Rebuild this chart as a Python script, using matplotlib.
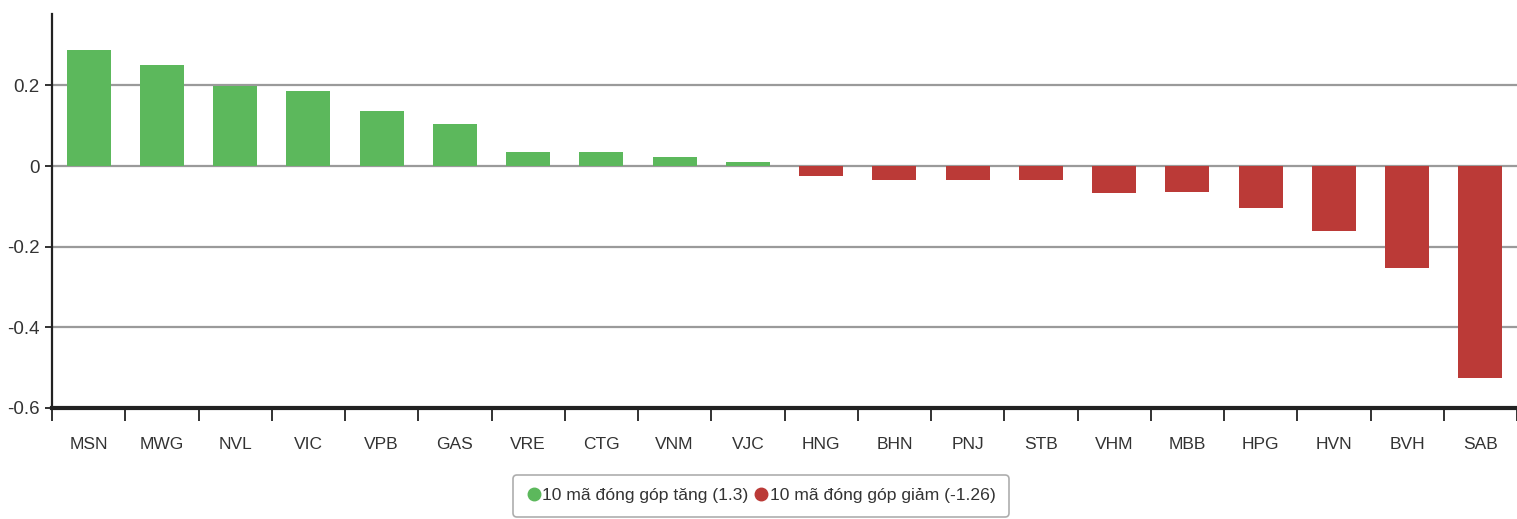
import matplotlib.pyplot as plt
from matplotlib.lines import Line2D
import numpy as np

# --- data ---
tickers = ['MSN', 'MWG', 'NVL', 'VIC', 'VPB', 'GAS', 'VRE', 'CTG', 'VNM', 'VJC',
           'HNG', 'BHN', 'PNJ', 'STB', 'VHM', 'MBB', 'HPG', 'HVN', 'BVH', 'SAB']
contrib = [0.287, 0.25, 0.198, 0.185, 0.137, 0.105, 0.035, 0.035, 0.023, 0.009,
           -0.024, -0.034, -0.034, -0.034, -0.066, -0.065, -0.104, -0.162, -0.253, -0.525]
legend_labels = ['10 mã đóng góp tăng (1.3)', '10 mã đóng góp giảm (-1.26)']

GREEN = '#5cb85c'
RED = '#bb3a37'

plt.rcParams['font.family'] = ['Liberation Sans', 'DejaVu Sans']

W, H = 1517, 519
fig = plt.figure(figsize=(W / 100, H / 100), dpi=100)
ax = fig.add_axes([52 / W, (H - 408) / H, (W - 52) / W, (408 - 14) / H])

x = np.arange(len(tickers))
colors = [GREEN if v >= 0 else RED for v in contrib]
ax.bar(x, contrib, width=0.6, color=colors, zorder=3)

ax.set_xlim(-0.5, len(tickers) - 0.5)
ax.set_ylim(-0.6, 0.377)

# grid lines
for yv in [0.2, 0, -0.2, -0.4]:
    ax.axhline(yv, color='#9a9a9a', lw=1.6, zorder=1)

ax.set_yticks([0.2, 0, -0.2, -0.4, -0.6])
ax.set_yticklabels(['0.2', '0', '-0.2', '-0.4', '-0.6'])
ax.tick_params(axis='y', length=5, width=1.3, color='#222222', labelsize=13.5, pad=4)

ax.set_xticks(x)
ax.set_xticklabels(tickers)
ax.set_xticks(np.arange(len(tickers) + 1) - 0.5, minor=True)
ax.tick_params(axis='x', which='major', length=0, labelsize=12.5, pad=21)
ax.tick_params(axis='x', which='minor', length=9, width=1.3, color='#222222')

for side in ['top', 'right']:
    ax.spines[side].set_visible(False)
ax.spines['left'].set_color('#222222')
ax.spines['left'].set_linewidth(1.6)
ax.spines['bottom'].set_color('#222222')
ax.spines['bottom'].set_linewidth(3)
ax.spines['bottom'].set_zorder(4)

for lab in ax.get_xticklabels() + ax.get_yticklabels():
    lab.set_color('#333333')

handles = [Line2D([], [], marker='o', ls='', color=GREEN, markersize=9),
           Line2D([], [], marker='o', ls='', color=RED, markersize=9)]
leg = fig.legend(handles, legend_labels, loc='upper center', ncol=2,
                 bbox_to_anchor=(761 / W, 1 - 475 / H), fontsize=12.6,
                 handletextpad=0.1, columnspacing=0.3, handlelength=0.8,
                 borderpad=0.75, borderaxespad=0, frameon=True, fancybox=True,
                 edgecolor='#999999', labelcolor='#333333')
leg.get_frame().set_linewidth(1.2)

fig.savefig('out.png', dpi=100)
